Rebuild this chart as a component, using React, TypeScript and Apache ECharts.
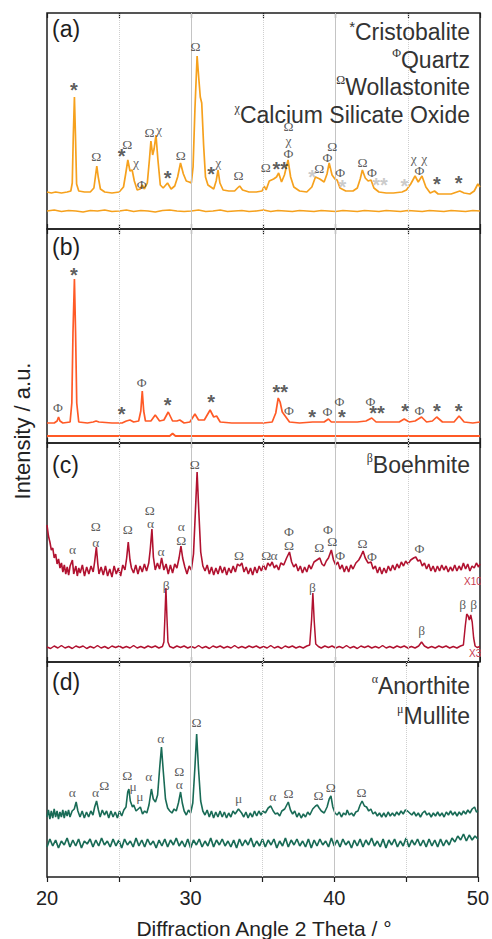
import React, { useEffect, useRef } from "react";
import * as echarts from "echarts";

const SANS = "'Liberation Sans', Arial, Helvetica, sans-serif";
const SERIF = "'Liberation Serif', 'Times New Roman', serif";

// ---------- axis ----------
const X_MIN = 20;
const X_MAX = 50;
const X_STEP = 5;
const gridLineAngles = [25, 30, 35, 40, 45];
const panelTags = ["(a)", "(b)", "(c)", "(d)"];

// ---------- panel (a) : orange ----------
const aMain: number[][] = [
  [20.0, 37], [20.3, 36], [20.6, 37], [21.0, 36], [21.4, 37], [21.65, 38], [21.75, 46], [21.82, 92], [21.9, 132], [21.97, 95], [22.05, 45], [22.2, 38], [22.6, 37],
  [23.0, 37], [23.25, 41], [23.35, 52], [23.45, 63], [23.55, 52], [23.7, 40], [24.0, 37], [24.5, 36], [25.0, 37], [25.3, 42], [25.45, 55], [25.6, 69], [25.75, 58],
  [25.9, 59], [26.05, 48], [26.25, 39], [26.45, 40], [26.6, 44], [26.75, 40], [26.95, 46], [27.1, 70], [27.2, 88], [27.32, 74], [27.42, 80], [27.55, 94], [27.68, 70],
  [27.85, 44], [28.05, 41], [28.35, 46], [28.6, 40], [28.85, 43], [29.05, 52], [29.25, 66], [29.45, 55], [29.65, 48], [29.85, 47], [30.0, 46], [30.12, 62], [30.25, 120],
  [30.4, 173], [30.52, 150], [30.62, 132], [30.72, 126], [30.85, 84], [30.98, 52], [31.15, 44], [31.35, 42], [31.55, 40], [31.72, 48], [31.85, 59], [31.98, 46],
  [32.2, 39], [32.6, 38], [33.0, 38], [33.2, 41], [33.35, 43], [33.55, 39], [34.0, 37], [34.5, 37], [34.9, 38], [35.05, 43], [35.18, 39], [35.4, 48], [35.7, 50],
  [35.9, 52], [36.05, 56], [36.25, 47], [36.45, 54], [36.7, 69], [36.88, 52], [37.1, 42], [37.5, 38], [38.0, 37], [38.35, 42], [38.6, 52], [38.9, 50], [39.2, 47],
  [39.4, 55], [39.55, 66], [39.75, 54], [39.95, 50], [40.1, 49], [40.3, 41], [40.7, 38], [41.2, 38], [41.5, 41], [41.7, 50], [41.85, 59], [42.05, 51], [42.25, 48],
  [42.45, 49], [42.65, 41], [43.0, 37], [43.5, 36], [44.0, 36], [44.6, 37], [44.9, 39], [45.2, 45], [45.5, 53], [45.72, 47], [45.98, 53], [46.25, 42], [46.55, 36],
  [46.85, 38], [47.1, 35], [47.5, 35], [48.0, 35], [48.4, 37], [48.6, 38], [48.9, 36], [49.3, 35], [49.6, 38], [49.85, 45], [50.0, 42],
];
const aLow: number[][] = [
  [20, 18], [20.5, 19], [21, 17.5], [21.5, 18.5], [22, 18], [22.5, 17], [23, 18.5], [23.5, 18], [24, 19], [24.5, 17.5], [25, 18], [25.5, 19], [26, 17.5], [26.5, 18.5],
  [27, 18], [27.5, 17], [28, 18.5], [28.5, 19], [29, 18], [29.5, 17.5], [30, 18], [30.5, 19], [31, 17.5], [31.5, 18], [32, 19], [32.5, 17.5], [33, 18], [33.5, 18.5],
  [34, 17.5], [34.5, 18], [35, 19], [35.5, 17.5], [36, 18.5], [36.5, 18], [37, 17.5], [37.5, 18.5], [38, 18], [38.5, 17.5], [39, 18.5], [39.5, 18], [40, 17.5],
  [40.5, 18.5], [41, 18], [41.5, 17.5], [42, 18.5], [42.5, 18], [43, 17.5], [43.5, 18.5], [44, 18], [44.5, 17.5], [45, 18.5], [45.5, 18], [46, 17.5], [46.5, 18.5],
  [47, 18], [47.5, 17.5], [48, 18.5], [48.5, 18], [49, 17.5], [49.5, 18.5], [50, 18],
];
const aMarks: [number, number, string][] = [
  [21.9, 139, "*"], [23.45, 72, "Ω"], [25.2, 73, "*"], [25.6, 84, "Ω"], [26.2, 66, "χ"], [26.6, 44, "Φ"], [27.13, 96, "Ω"], [27.8, 99, "χ"],
  [28.4, 51, "*"], [29.3, 73, "Ω"], [30.33, 182, "Ω"], [31.4, 55, "*"], [31.9, 66, "χ"], [33.3, 53, "Ω"], [35.2, 61, "Ω"], [36.2, 60, "**"],
  [36.76, 102, "Ω"], [36.76, 88, "χ"], [36.76, 75, "Φ"], [38.9, 60, "Ω"], [39.47, 71, "Φ"], [39.8, 82, "Ω"], [40.35, 56, "Φ"], [41.9, 66, "Ω"],
  [42.55, 56, "Φ"], [45.44, 70, "χ"], [46.18, 70, "χ"], [45.83, 58, "Φ"], [47.04, 45, "*"], [48.56, 46, "*"],
];
const aGreyMarks: [number, number, string][] = [
  [38.4, 52, "*"], [40.5, 42, "*"], [43.1, 44, "**"], [44.8, 43, "*"],
];

// ---------- panel (b) : red-orange ----------
const bMain: number[][] = [
  [20.0, 20], [20.5, 20], [20.7, 22], [20.8, 26], [20.9, 22], [21.1, 20], [21.6, 21], [21.72, 40], [21.8, 110], [21.9, 164], [21.98, 110], [22.06, 40], [22.2, 21],
  [22.8, 20], [23.2, 21], [23.4, 22], [23.6, 21], [24.5, 20], [25.2, 20], [25.5, 22], [25.75, 23], [26.0, 21], [26.35, 22], [26.5, 32], [26.6, 52], [26.7, 32],
  [26.82, 22], [27.2, 22], [27.5, 28], [27.8, 22], [28.1, 23], [28.4, 31], [28.7, 22], [29.0, 22], [29.2, 23], [29.5, 20], [29.9, 21], [30.25, 29], [30.5, 23],
  [30.9, 23], [31.3, 33], [31.55, 26], [31.75, 27], [32.0, 21], [32.8, 20], [34.0, 20], [35.0, 20], [35.6, 21], [35.85, 30], [36.02, 45], [36.15, 41], [36.3, 31],
  [36.55, 26], [36.8, 21], [37.5, 20], [38.4, 21], [39.2, 21], [39.5, 24], [39.7, 21], [40.5, 21], [41.5, 21], [42.1, 22], [42.5, 25], [42.8, 21], [44.4, 21],
  [44.75, 24], [45.1, 21], [45.5, 22], [45.95, 26], [46.3, 21], [46.7, 22], [47.0, 26], [47.4, 21], [48.2, 21], [48.55, 27], [48.9, 21], [49.5, 20], [50.0, 21],
];
const bLow: number[][] = [
  [20, 7], [25, 7], [28.5, 7], [28.7, 9.5], [28.9, 7], [35, 7], [40, 7], [45, 7], [50, 7],
];
const bMarks: [number, number, string][] = [
  [20.8, 35, "Φ"], [21.9, 168, "*"], [25.2, 29, "*"], [26.6, 60, "Φ"], [28.4, 38, "*"], [31.4, 41, "*"], [36.2, 51, "**"], [36.8, 32, "Φ"],
  [38.4, 26, "*"], [39.47, 31, "Φ"], [40.3, 41, "Φ"], [40.46, 26, "*"], [42.45, 41, "Φ"], [42.9, 30, "**"], [44.84, 32, "*"], [45.83, 32, "Φ"],
  [47.04, 32, "*"], [48.56, 32, "*"],
];

// ---------- panel (c) : crimson ----------
const cX10: number[][] = [
  [20.0, 137], [20.1, 126], [20.2, 120], [20.3, 112], [20.4, 114], [20.5, 104], [20.6, 108], [20.7, 98], [20.8, 103], [20.9, 94], [21.0, 99], [21.1, 90], [21.2, 97],
  [21.3, 88], [21.4, 95], [21.5, 87], [21.6, 96], [21.76, 102], [21.85, 88], [22.0, 96], [22.1, 86], [22.2, 94], [22.3, 89], [22.45, 97], [22.6, 86], [22.75, 95],
  [22.9, 88], [23.05, 96], [23.2, 90], [23.3, 100], [23.42, 115], [23.52, 98], [23.6, 88], [23.75, 95], [23.9, 87], [24.05, 96], [24.2, 86], [24.35, 93], [24.5, 85],
  [24.65, 96], [24.8, 88], [24.95, 94], [25.1, 86], [25.25, 97], [25.4, 92], [25.52, 104], [25.63, 120], [25.75, 102], [25.85, 94], [26.0, 89], [26.15, 97],
  [26.3, 88], [26.45, 96], [26.6, 90], [26.75, 98], [26.9, 91], [27.05, 99], [27.15, 112], [27.27, 133], [27.37, 105], [27.5, 92], [27.65, 99], [27.8, 93],
  [27.94, 104], [28.1, 92], [28.25, 98], [28.4, 88], [28.55, 97], [28.7, 89], [28.85, 98], [29.0, 94], [29.15, 104], [29.28, 116], [29.4, 104], [29.55, 95],
  [29.7, 88], [29.85, 96], [30.0, 92], [30.15, 108], [30.28, 150], [30.4, 190], [30.52, 150], [30.65, 110], [30.8, 96], [30.95, 91], [31.1, 97], [31.25, 88],
  [31.4, 95], [31.55, 87], [31.7, 94], [31.85, 88], [32.0, 96], [32.15, 89], [32.3, 95], [32.45, 87], [32.6, 94], [32.75, 89], [32.9, 96], [33.05, 90], [33.2, 98],
  [33.35, 96], [33.5, 99], [33.65, 90], [33.8, 95], [33.95, 88], [34.1, 94], [34.25, 87], [34.4, 95], [34.55, 89], [34.7, 96], [34.85, 91], [35.0, 97], [35.15, 92],
  [35.3, 99], [35.45, 96], [35.6, 100], [35.75, 94], [35.9, 97], [36.05, 92], [36.2, 99], [36.4, 97], [36.6, 104], [36.8, 110], [36.95, 100], [37.1, 95],
  [37.25, 98], [37.4, 91], [37.55, 96], [37.7, 89], [37.85, 95], [38.0, 90], [38.15, 97], [38.3, 93], [38.5, 100], [38.7, 102], [38.9, 104], [39.05, 98],
  [39.2, 96], [39.35, 101], [39.5, 104], [39.7, 112], [39.85, 102], [40.0, 97], [40.15, 100], [40.3, 93], [40.45, 97], [40.6, 90], [40.75, 96], [40.9, 90],
  [41.05, 97], [41.2, 93], [41.4, 99], [41.6, 102], [41.75, 106], [41.9, 111], [42.05, 104], [42.25, 99], [42.45, 100], [42.6, 93], [42.75, 96], [42.9, 89],
  [43.05, 95], [43.2, 88], [43.35, 94], [43.5, 89], [43.65, 96], [43.8, 91], [43.95, 97], [44.1, 92], [44.25, 98], [44.4, 94], [44.55, 100], [44.7, 96],
  [44.85, 101], [45.0, 98], [45.2, 102], [45.4, 104], [45.55, 105], [45.7, 101], [45.85, 102], [46.0, 96], [46.15, 99], [46.3, 93], [46.45, 98], [46.6, 91],
  [46.75, 96], [46.9, 90], [47.05, 96], [47.2, 91], [47.35, 97], [47.5, 92], [47.65, 96], [47.8, 90], [47.95, 95], [48.1, 91], [48.25, 97], [48.4, 91],
  [48.55, 96], [48.7, 92], [48.85, 99], [49.0, 93], [49.15, 98], [49.3, 91], [49.45, 96], [49.6, 94], [49.75, 99], [49.9, 95], [50.0, 98],
];
const cX3: number[][] = [
  [20.0, 15], [20.25, 13.5], [20.5, 16], [20.75, 14], [21.0, 16.5], [21.25, 14], [21.5, 15.5], [21.75, 13.5], [22.0, 16], [22.25, 14.5], [22.5, 16], [22.75, 13.5],
  [23.0, 15.5], [23.25, 14], [23.5, 16.5], [23.75, 14], [24.0, 15.5], [24.25, 13.5], [24.5, 16], [24.75, 14.5], [25.0, 16], [25.25, 14], [25.5, 15.5], [25.75, 14],
  [26.0, 16.5], [26.25, 14], [26.5, 15.5], [26.75, 14], [27.0, 16], [27.25, 14.5], [27.5, 16], [27.75, 14], [28.0, 15.5], [28.1, 20], [28.17, 45], [28.24, 74],
  [28.31, 45], [28.38, 20], [28.5, 15.5], [28.75, 14], [29.0, 16], [29.25, 14.5], [29.5, 16], [29.75, 14], [30.0, 15.5], [30.25, 14], [30.5, 16.5], [30.75, 14],
  [31.0, 15.5], [31.25, 13.5], [31.5, 16], [31.75, 14.5], [32.0, 16], [32.25, 14], [32.5, 15.5], [32.75, 14], [33.0, 16.5], [33.25, 14], [33.5, 15.5], [33.75, 14],
  [34.0, 16], [34.25, 14.5], [34.5, 16], [34.75, 14], [35.0, 15.5], [35.25, 14], [35.5, 16.5], [35.75, 14], [36.0, 15.5], [36.25, 13.5], [36.5, 16], [36.75, 14.5],
  [37.0, 16], [37.25, 14], [37.5, 15.5], [37.75, 14], [38.0, 16], [38.2, 17], [38.33, 42], [38.42, 69], [38.51, 42], [38.62, 18], [38.8, 15.5], [39.0, 14],
  [39.25, 16], [39.5, 14.5], [39.75, 16], [40.0, 14], [40.25, 15.5], [40.5, 14], [40.75, 16.5], [41.0, 14], [41.25, 15.5], [41.5, 13.5], [41.75, 16], [42.0, 14.5],
  [42.25, 16], [42.5, 14], [42.75, 15.5], [43.0, 14], [43.25, 16.5], [43.5, 14], [43.75, 15.5], [44.0, 14], [44.25, 16], [44.5, 14.5], [44.75, 16], [45.0, 14],
  [45.25, 15.5], [45.5, 14], [45.75, 16], [45.95, 20], [46.15, 16], [46.4, 14], [46.65, 15.5], [46.9, 14], [47.15, 16], [47.4, 14.5], [47.65, 16], [47.9, 14],
  [48.15, 15.5], [48.4, 14], [48.65, 16], [48.85, 17], [48.98, 36], [49.08, 48], [49.18, 46], [49.26, 42], [49.36, 47], [49.46, 40], [49.56, 24], [49.66, 16],
  [49.8, 14.5], [50.0, 15.5],
];
const cMarks: [number, number, string][] = [
  [21.8, 112, "α"], [23.42, 135, "Ω"], [23.42, 119, "α"], [25.63, 132, "Ω"], [27.15, 151, "Ω"], [27.2, 138, "α"], [27.94, 110, "α"],
  [29.33, 135, "α"], [29.33, 121, "Ω"], [30.28, 197, "Ω"], [33.33, 106, "Ω"], [35.23, 106, "Ω"], [35.76, 106, "α"], [36.8, 130, "Φ"],
  [36.8, 116, "Ω"], [38.9, 114, "Ω"], [39.5, 132, "Φ"], [39.8, 120, "Ω"], [40.35, 106, "Φ"], [41.9, 118, "Ω"], [42.55, 105, "Φ"],
  [45.83, 113, "Φ"], [28.3, 76, "β"], [38.42, 74, "β"], [46.0, 31, "β"], [48.84, 57, "β"], [49.6, 57, "β"],
];

// ---------- panel (d) : teal ----------
const dMain: number[][] = [
  [20.0, 60], [20.1, 67], [20.2, 58], [20.3, 66], [20.4, 59], [20.5, 68], [20.6, 60], [20.7, 66], [20.8, 58], [20.9, 65], [21.0, 60], [21.1, 67], [21.2, 59],
  [21.3, 66], [21.4, 61], [21.5, 67], [21.6, 60], [21.75, 66], [21.9, 68], [22.03, 75], [22.15, 66], [22.3, 60], [22.45, 66], [22.6, 59], [22.75, 65], [22.9, 60],
  [23.05, 66], [23.2, 62], [23.32, 70], [23.45, 76], [23.58, 67], [23.7, 60], [23.85, 67], [24.0, 62], [24.15, 66], [24.3, 59], [24.45, 66], [24.6, 60], [24.75, 65],
  [24.9, 59], [25.05, 66], [25.2, 61], [25.35, 67], [25.5, 70], [25.62, 85], [25.7, 88], [25.8, 76], [25.95, 70], [26.04, 72], [26.2, 66], [26.35, 68], [26.5, 70],
  [26.65, 63], [26.8, 66], [26.95, 64], [27.1, 72], [27.27, 88], [27.4, 78], [27.55, 75], [27.7, 82], [27.85, 110], [27.97, 130], [28.1, 105], [28.25, 78],
  [28.4, 69], [28.55, 66], [28.7, 64], [28.85, 68], [29.0, 66], [29.15, 74], [29.3, 85], [29.42, 74], [29.55, 66], [29.7, 62], [29.85, 67], [30.0, 64], [30.15, 74],
  [30.3, 110], [30.42, 143], [30.55, 108], [30.7, 76], [30.85, 66], [31.0, 62], [31.15, 67], [31.3, 60], [31.45, 66], [31.6, 59], [31.75, 65], [31.9, 60],
  [32.05, 66], [32.2, 60], [32.35, 65], [32.5, 59], [32.65, 64], [32.8, 60], [32.95, 66], [33.1, 63], [33.33, 68], [33.55, 64], [33.7, 60], [33.85, 65], [34.0, 59],
  [34.15, 64], [34.3, 60], [34.45, 66], [34.6, 61], [34.75, 66], [34.9, 62], [35.05, 66], [35.2, 64], [35.4, 69], [35.58, 71], [35.75, 66], [35.9, 63], [36.05, 64],
  [36.2, 61], [36.35, 66], [36.55, 68], [36.8, 75], [36.95, 67], [37.1, 63], [37.25, 66], [37.4, 60], [37.55, 64], [37.7, 59], [37.85, 63], [38.0, 60], [38.15, 65],
  [38.3, 62], [38.5, 68], [38.7, 71], [38.82, 72], [38.95, 69], [39.1, 66], [39.3, 64], [39.5, 70], [39.65, 78], [39.77, 81], [39.9, 70], [40.05, 64], [40.2, 62],
  [40.35, 65], [40.5, 60], [40.65, 64], [40.8, 62], [40.9, 67], [41.05, 62], [41.2, 64], [41.35, 61], [41.5, 65], [41.65, 66], [41.8, 72], [41.94, 76], [42.1, 71],
  [42.25, 70], [42.4, 66], [42.55, 68], [42.7, 63], [42.85, 65], [43.0, 61], [43.15, 64], [43.3, 60], [43.45, 64], [43.6, 60], [43.75, 65], [43.9, 61], [44.05, 64],
  [44.2, 61], [44.35, 65], [44.5, 62], [44.65, 66], [44.8, 63], [44.95, 67], [45.1, 66], [45.25, 64], [45.4, 62], [45.55, 65], [45.7, 61], [45.85, 64], [46.0, 60],
  [46.15, 64], [46.3, 66], [46.45, 62], [46.6, 64], [46.75, 60], [46.9, 64], [47.05, 61], [47.2, 65], [47.35, 61], [47.5, 64], [47.65, 60], [47.8, 65], [47.95, 62],
  [48.1, 66], [48.25, 62], [48.4, 65], [48.55, 61], [48.7, 65], [48.85, 62], [49.0, 66], [49.15, 63], [49.3, 67], [49.45, 64], [49.6, 68], [49.77, 70], [49.9, 65],
  [50.0, 66],
];
// lower teal trace, one reading every 0.2 degree from 20 to 50
const dLowStart = 20;
const dLowStep = 0.2;
const dLowY: number[] = [
  30, 38, 31, 37, 29, 36, 32, 39, 30, 37, 31, 38, 29, 36, 33, 38, 30, 37, 31, 39,
  32, 36, 30, 38, 31, 37, 29, 38, 32, 36, 30, 39, 31, 37, 30, 38, 32, 36, 29, 37,
  31, 38, 30, 37, 32, 39, 31, 36, 30, 38, 29, 37, 32, 38, 30, 36, 31, 39, 30, 37,
  32, 38, 31, 36, 30, 37, 29, 38, 31, 37, 32, 39, 30, 36, 31, 38, 30, 37, 32, 38,
  29, 36, 31, 39, 30, 37, 32, 38, 31, 36, 30, 38, 29, 37, 31, 38, 32, 36, 30, 39,
  31, 37, 30, 38, 32, 36, 29, 37, 31, 38, 30, 37, 32, 39, 31, 36, 30, 38, 29, 37,
  32, 38, 30, 36, 31, 39, 30, 37, 32, 38, 31, 37, 30, 38, 31, 37, 30, 38, 31, 37,
  32, 39, 35, 41, 37, 43, 36, 42, 37, 41, 38,
];
const dMarks: [number, number, string][] = [
  [21.8, 84, "α"], [23.42, 84, "α"], [24.03, 91, "Ω"], [25.63, 101, "Ω"], [26.04, 90, "μ"], [26.5, 80, "μ"], [27.13, 100, "α"],
  [27.96, 138, "α"], [29.24, 105, "Ω"], [29.24, 92, "α"], [30.44, 154, "Ω"], [33.38, 78, "μ"], [35.76, 80, "α"], [36.85, 83, "Ω"],
  [38.94, 81, "Ω"], [39.8, 89, "Ω"], [41.94, 84, "Ω"],
];

// ---------- legends ----------
const legendA: [string, string][] = [
  ["*", "Cristobalite"], ["Φ", "Quartz"], ["Ω", "Wollastonite"], ["χ", "Calcium Silicate Oxide"],
];
const legendC: [string, string][] = [["β", "Boehmite"]];
const legendD: [string, string][] = [["α", "Anorthite"], ["μ", "Mullite"]];
const scaleTags = ["X10", "X3"];

// ---------- layout / styles ----------
const panelTops = [13, 229, 443, 662];
const panelHeights = [216, 214, 219, 215];
const GRID_LEFT = 47;
const GRID_RIGHT = 12;
const traceColors = ["#F6A11D", "#FF5A26", "#B11230", "#196B56"];
const markColor = "#333333";

function markLabel(t: string, color: string) {
  const base = {
    show: true, position: [0, 0], align: "center", verticalAlign: "middle", formatter: t, color,
    textBorderWidth: 0, textShadowBlur: 0,
  };
  if (t.indexOf("*") >= 0) {
    return { ...base, fontFamily: SANS, fontWeight: "bold", fontSize: 20, lineHeight: 12, offset: [0, 5] };
  }
  return { ...base, fontFamily: SERIF, fontSize: 13.5, lineHeight: 11 };
}

function traceSeries(idx: number, data: number[][], color: string, width: number) {
  return {
    type: "line", xAxisIndex: idx * 2, yAxisIndex: idx, data, symbol: "none", showSymbol: false,
    lineStyle: { color, width }, itemStyle: { color }, silent: true, z: 3, clip: true,
  };
}

function markSeries(idx: number, marks: [number, number, string][], color: string) {
  return {
    type: "scatter", xAxisIndex: idx * 2, yAxisIndex: idx, symbolSize: 1, silent: true, z: 5,
    itemStyle: { color: "rgba(255,255,255,0)" },
    labelLayout: { hideOverlap: false },
    data: marks.map(([x, y, t]) => ({ value: [x, y], label: markLabel(t, color) })),
  };
}

function gridLineSeries(idx: number) {
  return {
    type: "line", xAxisIndex: idx * 2, yAxisIndex: idx, data: [], silent: true, z: 1,
    markLine: {
      silent: true, symbol: ["none", "none"], label: { show: false }, animation: false,
      data: gridLineAngles.map((v) => ({
        xAxis: v,
        lineStyle: v % 10 === 0
          ? { color: "#c4c4c4", type: "solid", width: 1 }
          : { color: "#cfcfcf", type: "dotted", width: 1 },
      })),
    },
  };
}

function legendTexts(items: [string, string][], right: number, startY: number, gap: number) {
  return items.map(([sym, word], i) => ({
    type: "text", x: right, y: startY + i * gap, z: 10,
    style: {
      text: `{s|${sym}}{w|${word}}`,
      align: "right", verticalAlign: "middle",
      rich: {
        s: { fontFamily: sym === "*" ? SANS : SERIF, fontSize: sym === "*" ? 15 : 12, fill: "#333", verticalAlign: "top", lineHeight: 26 },
        w: { fontFamily: SANS, fontSize: 23, fill: "#333", lineHeight: 26 },
      },
    },
  }));
}

export default function App() {
  const ref = useRef<HTMLDivElement>(null);

  useEffect(() => {
    if (!ref.current) return;
    const chart = echarts.init(ref.current, undefined, { renderer: "svg" });

    const dLow = dLowY.map((y, i) => [+(dLowStart + i * dLowStep).toFixed(2), y]);

    const grids = panelTops.map((top, i) => ({
      left: GRID_LEFT, right: GRID_RIGHT, top, height: panelHeights[i],
      show: true, borderColor: "#1e1e1e", borderWidth: 1.5, backgroundColor: "transparent",
    }));

    const tickStyle = { color: "#1e1e1e", width: 1.2 };
    const xAxes: any[] = [];
    panelTops.forEach((_, i) => {
      xAxes.push({
        gridIndex: i, type: "value", min: X_MIN, max: X_MAX, interval: X_STEP, position: "bottom",
        axisLine: { show: false }, splitLine: { show: false },
        axisTick: { show: true, inside: i < 3, length: 5, lineStyle: tickStyle },
        axisLabel: i === 3
          ? { show: true, fontSize: 20, color: "#222", fontFamily: SANS, margin: 11, showMinLabel: true, showMaxLabel: true,
              formatter: (v: number) => (v % 10 === 0 ? String(v) : "") }
          : { show: false },
      });
      xAxes.push({
        gridIndex: i, type: "value", min: X_MIN, max: X_MAX, interval: X_STEP, position: "top",
        axisLine: { show: false }, splitLine: { show: false },
        axisTick: { show: true, inside: true, length: 5, lineStyle: tickStyle },
        axisLabel: { show: false },
      });
    });

    const yAxes = panelHeights.map((h, i) => ({
      gridIndex: i, type: "value", min: 0, max: h, show: false,
    }));

    const series: any[] = [
      gridLineSeries(0), gridLineSeries(1), gridLineSeries(2), gridLineSeries(3),
      traceSeries(0, aMain, traceColors[0], 1.7),
      traceSeries(0, aLow, traceColors[0], 1.6),
      markSeries(0, aMarks, markColor),
      markSeries(0, aGreyMarks, "#bdbdbd"),
      traceSeries(1, bMain, traceColors[1], 1.7),
      traceSeries(1, bLow, traceColors[1], 1.8),
      markSeries(1, bMarks, markColor),
      traceSeries(2, cX10, traceColors[2], 1.6),
      traceSeries(2, cX3, traceColors[2], 1.5),
      markSeries(2, cMarks, markColor),
      traceSeries(3, dMain, traceColors[3], 1.6),
      traceSeries(3, dLow, traceColors[3], 1.7),
      markSeries(3, dMarks, markColor),
    ];

    const tagY = [29, 247, 465, 682];
    const graphic: any[] = [
      ...panelTags.map((t, i) => ({
        type: "text", x: 52, y: tagY[i], z: 10,
        style: { text: t, fontFamily: SANS, fontSize: 23, fill: "#1e1e1e", align: "left", verticalAlign: "middle" },
      })),
      ...legendTexts(legendA, 470, 32, 27.5),
      ...legendTexts(legendC, 470, 465, 30),
      ...legendTexts(legendD, 470, 686, 30),
      {
        type: "text", x: 464, y: 581, z: 10,
        style: { text: scaleTags[0], fontFamily: SANS, fontSize: 10, fill: "#C8384F", align: "left", verticalAlign: "middle" },
      },
      {
        type: "text", x: 469, y: 653, z: 10,
        style: { text: scaleTags[1], fontFamily: SANS, fontSize: 10, fill: "#C8384F", align: "left", verticalAlign: "middle" },
      },
      {
        type: "rect", z: 11, shape: { x: 481, y: 560, width: 11, height: 110 }, style: { fill: "#ffffff" },
      },
      {
        type: "text", x: 264, y: 928, z: 10,
        style: { text: "Diffraction Angle 2 Theta / °", fontFamily: SANS, fontSize: 21, fill: "#222", align: "center", verticalAlign: "middle" },
      },
      {
        type: "text", x: 22, y: 431, rotation: Math.PI / 2, z: 10,
        style: { text: "Intensity / a.u.", fontFamily: SANS, fontSize: 22, fill: "#222", align: "center", verticalAlign: "middle" },
      },
    ];

    chart.setOption({
      animation: false,
      backgroundColor: "#ffffff",
      grid: grids,
      xAxis: xAxes,
      yAxis: yAxes,
      series,
      graphic,
    });

    return () => chart.dispose();
  }, []);

  return (
    <div
      ref={ref}
      style={{ position: "fixed", left: 0, top: 0, width: 492, height: 939, background: "#fff" }}
    />
  );
}
